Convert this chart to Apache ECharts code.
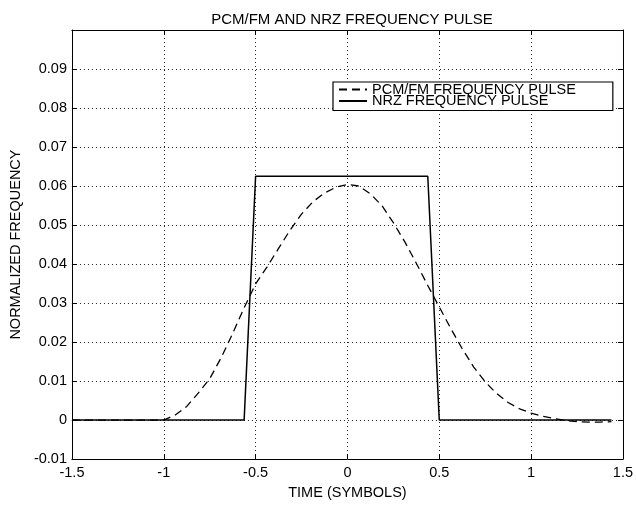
<!DOCTYPE html>
<html>
<head>
<meta charset="utf-8">
<script src="https://cdn.jsdelivr.net/npm/echarts@6/dist/echarts.min.js"></script>
<style>
  html, body { margin: 0; padding: 0; background: #fff; }
  #chart { width: 636px; height: 505px; }
</style>
</head>
<body>
<div id="chart"></div>
<script>
// Sample instants, in symbols (1/16-symbol spacing)
const timeSymbols = [
  -1.5, -1.4375, -1.375, -1.3125, -1.25, -1.1875, -1.125, -1.0625,
  -1.0, -0.9375, -0.875, -0.8125, -0.75, -0.6875, -0.625, -0.5625,
  -0.5, -0.4375, -0.375, -0.3125, -0.25, -0.1875, -0.125, -0.0625,
  0.0, 0.0625, 0.125, 0.1875, 0.25, 0.3125, 0.375, 0.4375,
  0.5, 0.5625, 0.625, 0.6875, 0.75, 0.8125, 0.875, 0.9375,
  1.0, 1.0625, 1.125, 1.1875, 1.25, 1.3125, 1.375, 1.4375
];

// Filtered PCM/FM frequency pulse
const pcmFmPulse = [
  0, 0, 0, 0, 0, 0, 0, 0,
  0, 0.0013, 0.0035, 0.0069, 0.0106, 0.0160, 0.0222, 0.0288,
  0.0349, 0.0393, 0.0440, 0.0487, 0.0528, 0.0560, 0.0582, 0.0597,
  0.0604, 0.0600, 0.0580, 0.0550, 0.0506, 0.0457, 0.0402, 0.0345,
  0.0290, 0.0235, 0.0183, 0.0136, 0.0098, 0.0068, 0.0045, 0.0029,
  0.0018, 0.0010, 0.0004, -0.0001, -0.0004, -0.0005, -0.0005, -0.0004
];

// Rectangular NRZ frequency pulse
const nrzPulse = [
  0, 0, 0, 0, 0, 0, 0, 0,
  0, 0, 0, 0, 0, 0, 0, 0,
  0.0625, 0.0625, 0.0625, 0.0625, 0.0625, 0.0625, 0.0625, 0.0625,
  0.0625, 0.0625, 0.0625, 0.0625, 0.0625, 0.0625, 0.0625, 0.0625,
  0, 0, 0, 0, 0, 0, 0, 0,
  0, 0, 0, 0, 0, 0, 0, 0
];

const seriesNames = ['PCM/FM FREQUENCY PULSE', 'NRZ FREQUENCY PULSE'];
const titleText = 'PCM/FM AND NRZ FREQUENCY PULSE';
const xAxisTitle = 'TIME (SYMBOLS)';
const yAxisTitle = 'NORMALIZED FREQUENCY';

const FONT = "'Liberation Sans', Arial, Helvetica, sans-serif";

function pairs(values) {
  return timeSymbols.map((t, i) => [t, values[i]]);
}

const gridLine = { show: true, lineStyle: { color: '#222', type: [1, 3], width: 1 } };
const frameLine = { show: true, onZero: false, lineStyle: { color: '#000', width: 1 } };
const innerTick = { show: true, inside: true, length: 5, lineStyle: { color: '#000', width: 1 } };

const xRange = { type: 'value', min: -1.5, max: 1.5, interval: 0.5 };
const yRange = { type: 'value', min: -0.01, max: 0.1, interval: 0.01 };

const chart = echarts.init(document.getElementById('chart'), null, { renderer: 'canvas' });

chart.setOption({
  backgroundColor: '#fff',
  animation: false,
  textStyle: { fontFamily: FONT },
  title: {
    text: titleText,
    left: 347,
    textAlign: 'center',
    top: 6,
    textStyle: { fontFamily: FONT, fontSize: 15, fontWeight: 'normal', color: '#000', lineHeight: 18 }
  },
  grid: { left: 68, right: 10, top: 30, bottom: 39, containLabel: false },
  legend: {
    data: seriesNames,
    orient: 'vertical',
    left: 333,
    top: 82,
    padding: [0, 37, 2, 5],
    itemGap: -3.5,
    itemWidth: 28,
    itemHeight: 10,
    itemStyle: { opacity: 0 },
    borderColor: '#000',
    borderWidth: 1.2,
    backgroundColor: '#fff',
    textStyle: { fontFamily: FONT, fontSize: 14.5, color: '#000' }
  },
  xAxis: [
    Object.assign({}, xRange, {
      position: 'bottom',
      name: xAxisTitle,
      nameLocation: 'middle',
      nameGap: 20,
      nameTextStyle: { fontFamily: FONT, fontSize: 14.5, color: '#000' },
      axisLine: frameLine,
      axisTick: innerTick,
      splitLine: gridLine,
      axisLabel: {
        color: '#000', fontFamily: FONT, fontSize: 14.5, margin: 6,
        formatter: v => String(parseFloat(v.toFixed(2)))
      }
    }),
    Object.assign({}, xRange, {
      position: 'top',
      axisLine: frameLine,
      axisTick: innerTick,
      splitLine: { show: false },
      axisLabel: { show: false }
    })
  ],
  yAxis: [
    Object.assign({}, yRange, {
      position: 'left',
      name: yAxisTitle,
      nameLocation: 'middle',
      nameRotate: 90,
      nameGap: 44,
      nameTextStyle: { fontFamily: FONT, fontSize: 14.5, color: '#000' },
      axisLine: frameLine,
      axisTick: innerTick,
      splitLine: gridLine,
      axisLabel: {
        color: '#000', fontFamily: FONT, fontSize: 14.5, margin: 5,
        formatter: v => (Math.abs(v - 0.1) < 1e-9 ? '' : String(parseFloat(v.toFixed(2))))
      }
    }),
    Object.assign({}, yRange, {
      position: 'right',
      axisLine: frameLine,
      axisTick: innerTick,
      splitLine: { show: false },
      axisLabel: { show: false }
    })
  ],
  series: [
    {
      name: seriesNames[0],
      type: 'line',
      xAxisIndex: 0,
      yAxisIndex: 0,
      data: pairs(pcmFmPulse),
      symbol: 'none',
      showSymbol: false,
      smooth: false,
      lineStyle: { color: '#000', width: 1.3, type: [8, 5] },
      itemStyle: { color: '#000' },
      z: 3
    },
    {
      name: seriesNames[1],
      type: 'line',
      xAxisIndex: 0,
      yAxisIndex: 0,
      data: pairs(nrzPulse),
      symbol: 'none',
      showSymbol: false,
      lineStyle: { color: '#000', width: 1.5, type: 'solid' },
      itemStyle: { color: '#000' },
      z: 2
    }
  ]
});
</script>
</body>
</html>
